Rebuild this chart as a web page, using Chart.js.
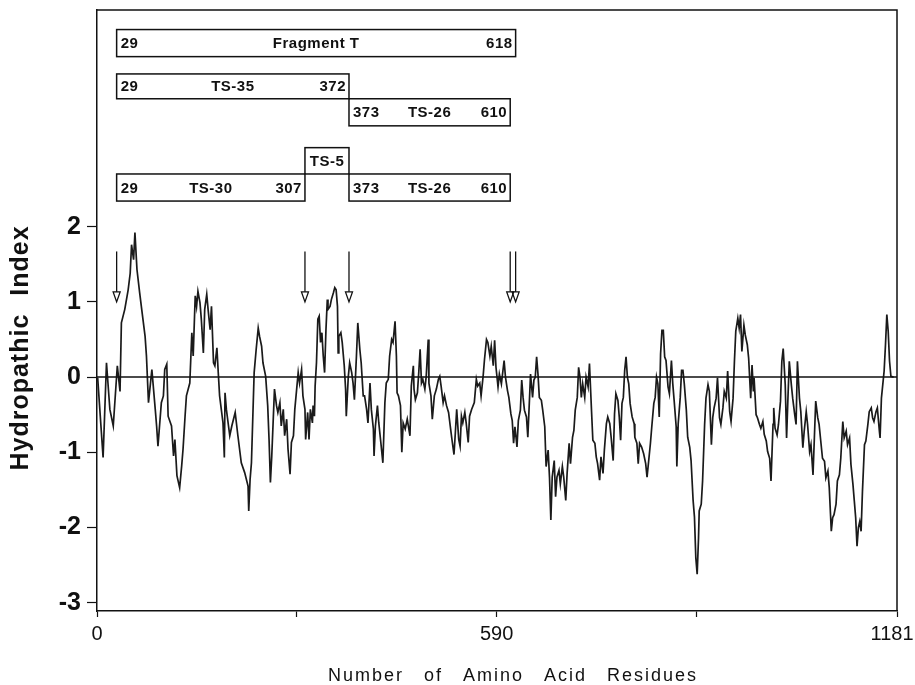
<!DOCTYPE html>
<html>
<head>
<meta charset="utf-8">
<script src="https://cdn.jsdelivr.net/npm/chart.js@4.4.1/dist/chart.umd.min.js"></script>
<style>
  html, body { margin: 0; background: #fff; }
  canvas { display: block; }
</style>
</head>
<body>
<canvas id="hydroChart" width="915" height="685"></canvas>
<script>
// residue number / hydropathic index
var residues = [
  1,9,14,19,24,30,34,36,41,46,49,51,54,56,59,63,66,71,73,76,81,86,88,90,95,98,100,103,105,110,
  113,115,118,122,125,127,130,132,137,140,142,145,147,149,152,154,157,159,162,164,167,169,172,174,177,179,181,186,188,189,
  191,196,199,204,208,213,218,223,224,226,228,232,235,238,240,243,245,249,252,254,256,258,262,265,267,270,272,275,277,280,
  282,285,287,290,292,
  297,299,302,304,307,308,311,313,315,318,319,321,322,324,326,328,330,332,334,336,338,340,341,344,346,349,351,353,355,356,
  357,360,362,365,367,368,371,373,376,378,380,383,385,388,390,393,395,398,400,403,405,408,409,411,414,416,419,422,425,427,
  430,432,435,437,440,442,443,445,448,450,452,455,458,462,464,467,468,470,473,475,477,479,481,484,486,489,490,493,495,498,
  501,504,506,508,511,513,516,519,522,524,527,529,531,534,536,538,540,543,545,548,550,553,557,560,562,565,567,570,572,575,
  577,580,582,585,
  587,589,592,594,597,601,603,606,608,611,613,615,617,620,622,625,627,629,631,634,636,639,640,643,645,647,649,651,653,656,
  658,661,663,666,668,670,672,675,677,679,682,684,687,689,692,694,697,699,702,704,706,709,711,713,715,717,720,722,725,727,
  730,732,735,737,739,742,744,747,749,752,754,757,759,762,764,766,769,771,773,775,777,779,781,783,785,787,790,793,794,797,
  799,801,804,807,810,812,814,817,819,822,824,826,828,830,832,834,836,838,840,843,845,848,850,852,855,856,858,861,863,865,
  867,870,872,875,877,880,882,
  884,886,888,889,892,894,897,899,902,904,907,909,911,914,916,919,921,924,926,929,931,934,936,939,941,943,946,948,950,952,
  955,957,960,962,965,967,969,970,973,975,978,980,983,985,988,990,993,995,998,999,1001,1004,1006,1009,1011,1013,1016,1018,1020,1022,
  1025,1027,1030,1032,1034,1037,1039,1042,1044,1047,1049,1052,1054,1057,1059,1061,1064,1066,1069,1071,1074,1076,1079,1081,1084,1086,1088,1091,1093,1096,
  1098,1101,1103,1106,1108,1111,1113,1116,1118,1120,1122,1124,1126,1128,1130,1133,1135,1138,1140,1143,1145,1147,1150,1152,1155,1156,1158,1160,1162,1164,
  1166,1168,1170,1172,1176
];
var hydropathy = [
  -0.01,-1.07,0.19,-0.43,-0.65,0.15,-0.19,0.72,0.90,1.16,1.38,1.76,1.56,1.92,1.43,1.12,0.90,0.54,0.28,-0.34,0.10,-0.43,-0.65,-0.92,-0.34,-0.25,0.10,0.17,-0.52,-0.65,
  -1.05,-0.83,-1.31,-1.47,-1.18,-0.96,-0.52,-0.25,-0.08,0.59,0.28,1.08,0.94,1.14,0.99,0.77,0.32,0.90,1.10,0.90,0.63,0.94,0.19,0.15,0.39,0.06,-0.25,-0.61,-1.07,-0.21,
  -0.43,-0.78,-0.65,-0.47,-0.78,-1.14,-1.27,-1.45,-1.78,-1.36,-1.14,0.06,0.37,0.65,0.54,0.41,0.19,0.01,-0.38,-0.83,-1.40,-1.05,-0.16,-0.38,-0.47,-0.34,-0.65,-0.43,-0.78,-0.56,
  -0.96,-1.29,-0.87,-0.78,-0.43,
  0.06,-0.08,0.10,-0.25,-0.43,-0.83,-0.47,-0.83,-0.43,-0.61,-0.38,-0.52,-0.12,0.19,0.77,0.81,0.46,0.59,0.28,0.06,0.63,1.03,0.90,0.94,1.03,1.12,1.19,1.16,0.94,0.32,
  0.54,0.59,0.46,0.15,-0.16,-0.52,0.01,0.19,0.06,-0.08,-0.30,0.28,0.72,0.37,0.19,-0.25,-0.25,-0.43,-0.61,-0.08,-0.43,-0.69,-1.05,-0.65,-0.38,-0.61,-0.87,-1.14,-0.34,-0.08,
  -0.03,0.28,0.50,0.46,0.74,0.28,-0.21,-0.25,-0.38,-1.00,-0.61,-0.69,-0.56,-0.78,-0.12,0.15,-0.16,-0.30,-0.21,0.06,0.37,-0.08,-0.03,-0.16,0.01,0.50,-0.08,-0.25,-0.56,-0.25,
  -0.16,-0.03,0.01,-0.12,-0.34,-0.25,-0.38,-0.47,-0.69,-0.83,-1.03,-0.74,-0.43,-0.83,-0.92,-0.52,-0.61,-0.47,-0.61,-0.87,-0.52,-0.43,-0.34,-0.03,-0.12,-0.08,-0.25,0.01,0.23,0.50,
  0.46,0.28,0.41,0.15,
  0.49,0.13,-0.13,0.04,-0.09,0.22,0.00,-0.18,-0.27,-0.49,-0.58,-0.88,-0.66,-0.93,-0.58,-0.44,-0.04,-0.27,-0.44,-0.53,-0.80,-0.18,0.04,-0.27,-0.04,0.00,0.27,0.04,-0.27,-0.31,
  -0.44,-0.66,-1.19,-0.97,-1.33,-1.90,-1.33,-1.11,-1.59,-1.33,-1.24,-1.42,-1.19,-1.33,-1.64,-1.28,-0.88,-1.15,-0.80,-0.71,-0.44,-0.27,0.13,0.00,-0.27,-0.09,-0.27,0.00,-0.13,0.18,
  -0.44,-0.84,-0.88,-1.06,-1.15,-1.37,-1.06,-1.28,-0.97,-0.62,-0.53,-0.62,-0.80,-1.11,-0.49,-0.22,-0.31,-0.53,-0.84,-0.35,-0.27,0.09,0.27,0.00,-0.09,-0.35,-0.53,-0.62,-0.80,-0.88,
  -1.15,-0.88,-0.93,-1.02,-1.15,-1.33,-1.15,-0.88,-0.66,-0.35,-0.27,0.00,-0.09,-0.53,0.31,0.62,0.62,0.27,0.22,-0.13,-0.22,0.22,-0.09,-0.31,-0.66,-1.19,-0.62,-0.27,0.09,0.09,
  -0.09,-0.44,-0.80,-0.93,-1.11,-1.64,-1.86,
  -2.40,-2.62,-2.14,-1.78,-1.69,-1.38,-0.63,-0.28,-0.10,-0.19,-0.90,-0.54,-0.41,-0.28,-0.01,-0.54,-0.63,-0.41,-0.19,-0.28,0.08,-0.46,-0.59,-0.28,0.21,0.61,0.78,0.65,0.83,0.34,
  0.69,0.56,0.43,0.25,-0.28,0.16,-0.19,-0.01,-0.50,-0.54,-0.63,-0.68,-0.59,-0.76,-0.85,-0.99,-1.08,-1.38,-0.63,-0.41,-0.68,-0.77,-0.63,-0.32,0.21,0.38,-0.10,-0.81,-0.28,0.21,
  -0.10,-0.28,-0.50,-0.63,0.21,-0.28,-0.46,-0.94,-0.72,-0.46,-0.63,-0.99,-0.90,-1.30,-0.81,-0.32,-0.54,-0.63,-0.90,-1.08,-1.12,-1.34,-1.25,-1.47,-2.05,-1.87,-1.83,-1.69,-1.38,-1.30,
  -1.08,-0.59,-0.81,-0.72,-0.90,-0.81,-1.16,-1.43,-1.65,-1.87,-2.25,-2.00,-1.92,-2.05,-1.52,-0.90,-0.85,-0.63,-0.46,-0.41,-0.54,-0.59,-0.46,-0.41,-0.72,-0.81,-0.28,-0.10,0.08,0.43,
  0.83,0.61,0.21,0.01,0.00
];

var yTickValues = [-3, -2, -1, 0, 1, 2];
var xTickValues = [0, 295, 590, 885, 1181];
var xTickLabels = ['0', '', '590', '', '1181\u2002'];

// fragments drawn as boxes above the profile
var fragNames = ['Fragment T', 'TS-35', 'TS-26', 'TS-5', 'TS-30', 'TS-26'];
var fragStart = [29, 29, 372, 307, 29, 372];
var fragEnd = [618, 372, 610, 372, 307, 610];
var fragStartLabel = ['29', '29', '373', '', '29', '373'];
var fragEndLabel = ['618', '372', '610', '', '307', '610'];
var fragTop = [4.62, 4.03, 3.70, 3.05, 2.70, 2.70];
var fragBottom = [4.26, 3.70, 3.34, 2.70, 2.34, 2.34];

// cleavage site arrows
var arrowAt = [29, 307, 372, 610, 618];
var arrowFrom = 1.67, arrowTo = 1.0;

var FONT = '"Liberation Sans", Arial, Helvetica, sans-serif';

var points = [];
for (var i = 0; i < Math.min(residues.length, hydropathy.length); i++) {
  points.push({ x: residues[i], y: hydropathy[i] });
}

var overlay = {
  id: 'overlay',
  afterDatasetsDraw: function (chart) {
    var ctx = chart.ctx, a = chart.chartArea;
    var x = chart.scales.x, y = chart.scales.y;
    ctx.save();
    ctx.strokeStyle = '#111';
    ctx.fillStyle = '#111';
    ctx.lineWidth = 1.5;

    // zero line and frame
    var y0 = y.getPixelForValue(0);
    ctx.beginPath();
    ctx.moveTo(a.left, y0); ctx.lineTo(a.right, y0);
    ctx.moveTo(a.left, a.top); ctx.lineTo(a.right, a.top); ctx.lineTo(a.right, a.bottom);
    ctx.stroke();

    // fragment boxes
    ctx.font = 'bold 15px ' + FONT;
    ctx.letterSpacing = '0.5px';
    ctx.textBaseline = 'middle';
    fragNames.forEach(function (name, i) {
      var x1 = x.getPixelForValue(fragStart[i]), x2 = x.getPixelForValue(fragEnd[i]);
      var t = y.getPixelForValue(fragTop[i]), b = y.getPixelForValue(fragBottom[i]);
      ctx.strokeRect(x1, t, x2 - x1, b - t);
      var cy = (t + b) / 2 + 1;
      ctx.textAlign = 'left';
      ctx.fillText(fragStartLabel[i], x1 + 4, cy);
      ctx.textAlign = 'right';
      ctx.fillText(fragEndLabel[i], x2 - 3, cy);
      ctx.textAlign = 'center';
      ctx.fillText(name, (x1 + x2) / 2, cy);
    });

    // arrows
    ctx.letterSpacing = '0px';
    ctx.lineWidth = 1.3;
    arrowAt.forEach(function (r) {
      var px = x.getPixelForValue(r);
      var top = y.getPixelForValue(arrowFrom), tip = y.getPixelForValue(arrowTo);
      ctx.beginPath();
      ctx.moveTo(px, top); ctx.lineTo(px, tip - 10);
      ctx.stroke();
      ctx.beginPath();
      ctx.moveTo(px - 3.5, tip - 10); ctx.lineTo(px + 3.5, tip - 10); ctx.lineTo(px, tip);
      ctx.closePath();
      ctx.stroke();
    });
    ctx.restore();
  },
  afterDraw: function (chart) {
    var ctx = chart.ctx;
    ctx.save();
    ctx.fillStyle = '#111';
    ctx.textAlign = 'center';
    ctx.textBaseline = 'middle';
    // y axis title
    ctx.font = 'bold 25px ' + FONT;
    ctx.letterSpacing = '1px';
    ctx.wordSpacing = '10px';
    ctx.translate(21, 348);
    ctx.rotate(-Math.PI / 2);
    ctx.fillText('Hydropathic Index', 0, 0);
    ctx.setTransform(1, 0, 0, 1, 0, 0);
    // x axis title
    ctx.font = '18px ' + FONT;
    ctx.letterSpacing = '2px';
    ctx.wordSpacing = '13px';
    ctx.textBaseline = 'alphabetic';
    ctx.fillText('Number of Amino Acid Residues', 513, 681);
    ctx.restore();
  }
};

new Chart(document.getElementById('hydroChart'), {
  type: 'line',
  data: {
    datasets: [{
      data: points,
      borderColor: '#1a1a1a',
      borderWidth: 1.7,
      pointRadius: 0,
      tension: 0,
      fill: false
    }]
  },
  options: {
    responsive: false,
    animation: false,
    layout: { padding: { top: 10, right: 18, bottom: 0, left: 0 } },
    plugins: { legend: { display: false }, tooltip: { enabled: false } },
    scales: {
      x: {
        type: 'linear',
        min: 0,
        max: 1181,
        afterBuildTicks: function (s) { s.ticks = xTickValues.map(function (v) { return { value: v }; }); },
        afterFit: function (s) { s.height = 74; s.paddingLeft = 0; s.paddingRight = 0; },
        ticks: {
          autoSkip: false,
          maxRotation: 0,
          padding: 5,
          color: '#111',
          font: { family: FONT, size: 20 },
          callback: function (v, i) { return xTickLabels[i]; }
        },
        grid: { drawOnChartArea: false, tickLength: 6, tickColor: '#111', tickWidth: 1.2 },
        border: { color: '#111', width: 1.5 }
      },
      y: {
        min: -3.11,
        max: 4.88,
        afterBuildTicks: function (s) { s.ticks = yTickValues.map(function (v) { return { value: v }; }); },
        afterFit: function (s) { s.width = 97; s.paddingTop = 0; s.paddingBottom = 0; },
        ticks: {
          padding: 6,
          color: '#111',
          font: { family: FONT, size: 25, weight: 'bold' },
          callback: function (v) { return String(v); }
        },
        grid: { drawOnChartArea: false, tickLength: 10, tickColor: '#111', tickWidth: 1.2 },
        border: { color: '#111', width: 1.5 }
      }
    }
  },
  plugins: [overlay]
});
</script>
</body>
</html>
